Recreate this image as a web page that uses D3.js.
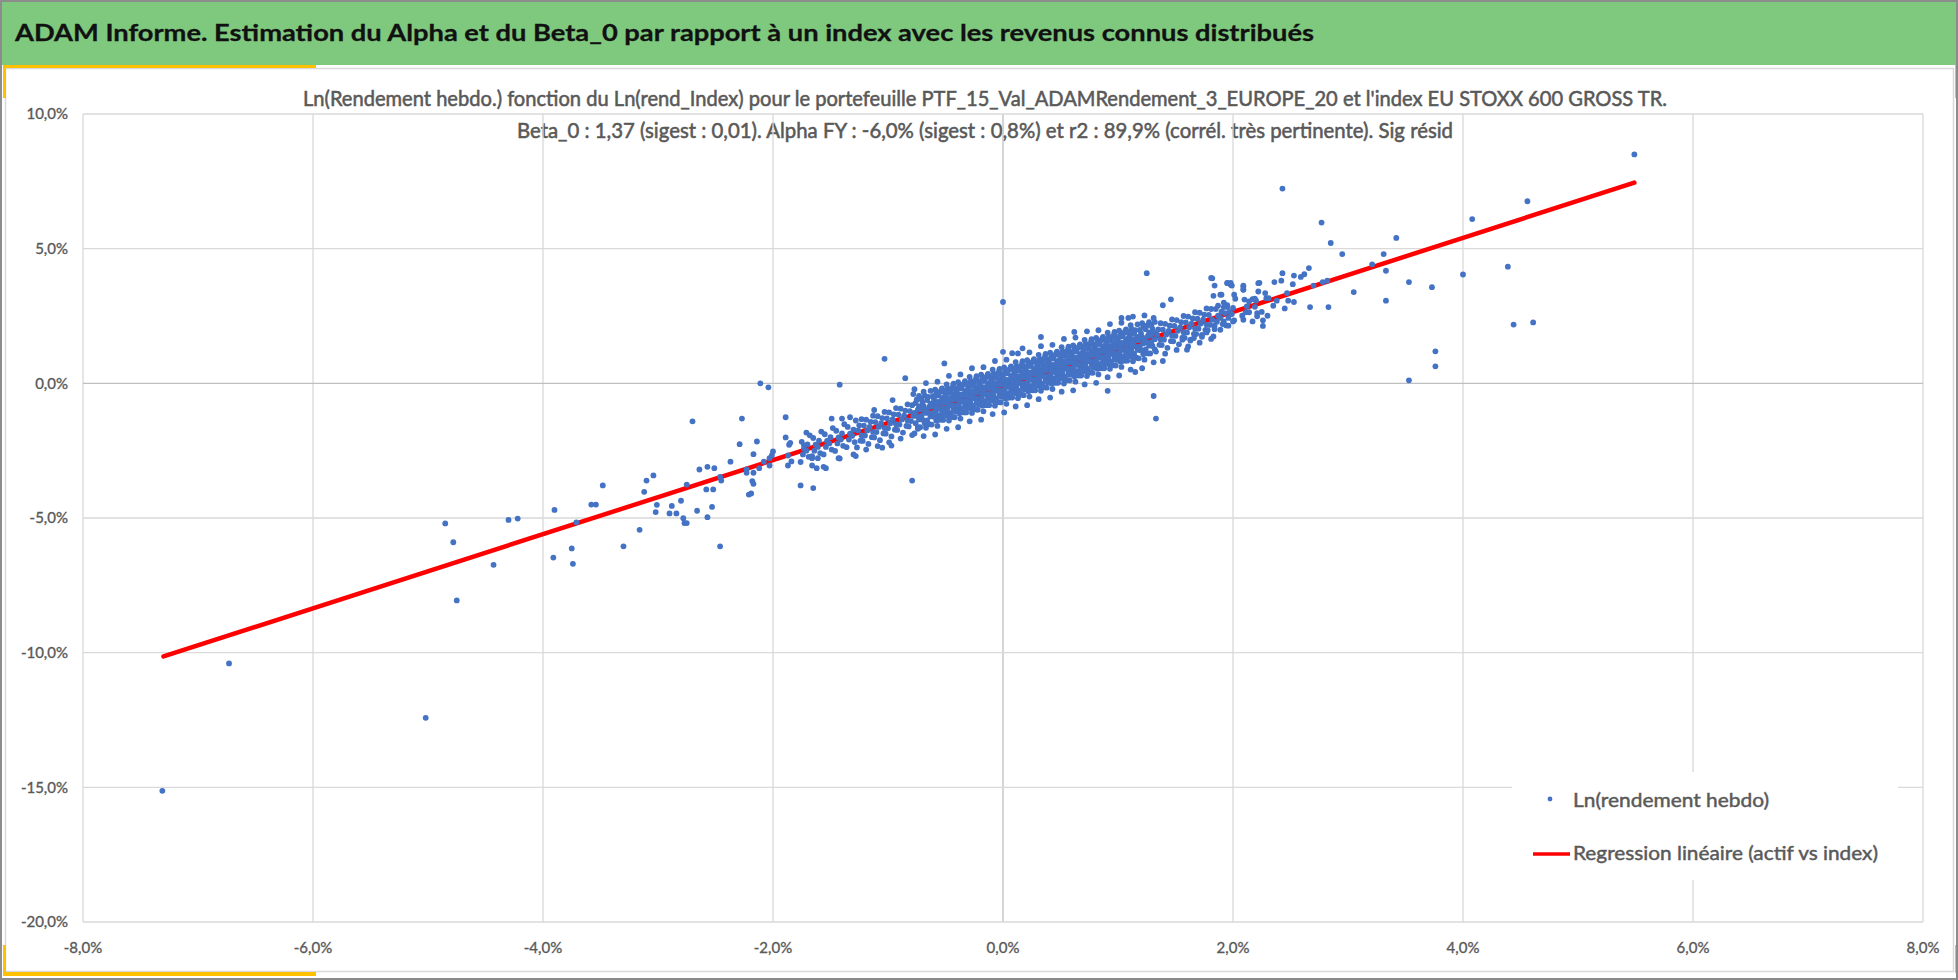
<!DOCTYPE html>
<html><head><meta charset="utf-8">
<script src="https://cdn.jsdelivr.net/npm/d3@7/dist/d3.min.js"></script>
<style>html,body{margin:0;padding:0;background:#fff;}svg{display:block;}</style>
</head><body>
<svg id="chart" width="1958" height="980"></svg>
<script>
// ---------- texts ----------
const headerTitle = "ADAM Informe. Estimation du Alpha et du Beta_0 par rapport à un index avec les revenus connus distribués";
const chartTitle1 = "Ln(Rendement hebdo.) fonction du Ln(rend_Index) pour le portefeuille PTF_15_Val_ADAMRendement_3_EUROPE_20 et l'index EU STOXX 600 GROSS TR.";
const chartTitle2 = "Beta_0 : 1,37 (sigest : 0,01). Alpha FY : -6,0% (sigest : 0,8%) et r2 : 89,9% (corrél. très pertinente). Sig résid";
const legendLabels = ["Ln(rendement hebdo)", "Regression linéaire (actif vs index)"];

// ---------- axes ----------
const xTicks = [-8, -6, -4, -2, 0, 2, 4, 6, 8];
const yTicks = [-20, -15, -10, -5, 0, 5, 10];

// ---------- regression line (x = ln rend index %, y = ln rend hebdo %) ----------
const regressionLine = [[-7.30, -10.14], [5.49, 7.45]];

// ---------- scattered weekly points (%) ----------
const scatterOuter = [
[-7.31,-15.13],[-6.73,-10.40],[-5.02,-12.42],[-4.85,-5.20],[-4.78,-5.90],[-4.75,-8.06],[-4.43,-6.74],[-4.30,-5.07],[-4.22,-5.02],
[-3.91,-6.47],[-3.90,-4.70],[-3.75,-6.13],[-3.74,-6.70],[-3.71,-5.16],[-3.58,-4.50],[-3.54,-4.50],[-3.48,-3.79],
[-3.30,-6.05],[-3.16,-5.44],[-3.12,-4.03],[-3.10,-3.61],[-3.04,-3.42],[-3.02,-4.78],[-3.01,-4.51],[-2.90,-4.83],[-2.88,-4.55],
[-2.84,-4.83],[-2.80,-4.36],[-2.78,-5.01],[-2.77,-5.19],[-2.75,-5.19],[-2.75,-3.76],[-2.70,-1.41],[-2.66,-4.73],[-2.64,-3.20],
[-2.58,-3.94],[-2.57,-4.97],[-2.57,-3.10],[-2.53,-4.59],[-2.52,-3.94],[-2.51,-3.15],[-2.46,-6.05],[-2.46,-3.47],[-2.45,-3.61],
[-2.37,-2.91],[-2.29,-2.26],[-2.27,-1.31],[-2.23,-3.20],[-2.23,-3.32],[-2.21,-4.13],[-2.19,-4.09],[-2.18,-3.63],[-2.17,-3.73],
[-2.17,-3.32],[-2.17,-2.63],[-2.14,-2.16],[-2.12,-3.15],[-2.11,0.00],[-2.08,-2.91],[-2.04,-0.15],[-2.03,-3.05],[-2.03,-2.78],
[-2.01,-2.68],[-2.00,-2.53],[-1.89,-1.26],[-1.89,-2.01],[-1.87,-3.05],[-1.87,-2.68],[-1.86,-2.28],[-1.85,-2.21],[-1.84,-2.90],
[-1.76,-3.79],[-1.65,-3.89],[-1.73,-2.30],[-1.71,-1.83],[-1.66,-2.70],[-1.66,-3.05],[-1.62,-3.15],[-1.61,-2.78],[-1.56,-3.10],
[-1.54,-3.15],[-1.43,-2.78],[-1.42,-0.05],[-1.49,-1.31],[-1.40,-1.31],[-1.33,-1.26],[-1.30,-2.64],[-1.28,-2.70],[-1.42,-2.79],
[-1.12,-0.99],[-1.05,-2.39],[-1.03,0.91],[-0.97,-2.31],[-0.96,-0.62],[-0.85,0.19],[-0.79,-3.61],[-0.78,-0.40],[-0.74,-1.69],
[-0.51,0.74],[0.00,3.02],[0.00,1.17],[0.08,1.12],[0.17,1.30],[0.33,1.72],[0.62,1.91],[0.91,-0.28],[1.31,-0.47],[1.33,-1.31],
[1.46,3.12],[1.39,2.90],[1.60,1.25],[1.39,0.83],[1.15,0.42],[1.03,2.43],[1.09,2.43],[1.25,4.09],[1.82,3.90],[1.95,3.72],
[1.98,3.66],[2.09,3.59],[2.09,3.47],[2.22,3.72],
[2.43,7.23],[2.77,5.97],[2.85,5.21],[2.95,4.80],[3.42,5.40],[3.31,4.80],[3.21,4.42],[3.33,4.18],[3.53,3.76],[3.73,3.57],
[3.33,3.07],[3.05,3.39],[2.83,2.83],[2.67,2.83],[2.82,3.81],[2.78,3.76],[2.70,3.63],[2.66,4.28],[2.62,4.05],[2.59,3.95],
[2.53,4.00],[2.43,4.09],[2.36,3.76],[2.42,3.81],[2.52,3.68],[2.53,3.02],[2.48,3.07],[2.47,3.35],[2.45,2.78],[2.38,3.07],
[2.35,2.88],[2.30,2.51],[2.31,3.16],[2.28,3.35],[2.29,3.16],[2.23,3.73],[2.25,2.65],[2.26,2.34],[2.26,2.13],[2.21,2.49],
[2.17,2.30],[2.17,3.13],[2.14,3.04],[2.14,2.64],[2.19,3.14],[2.09,3.63],[2.09,3.48],[2.08,2.51],[2.01,3.29],[2.00,2.30],
[1.99,3.63],[1.98,3.73],[1.95,3.73],[1.96,2.14],[1.81,3.91],[1.84,3.63],[1.83,3.25],[1.89,3.29],[1.90,3.29],[1.87,2.88],
[1.92,2.83],[1.95,2.83],[1.93,2.61],[1.92,2.30],[1.89,1.99],[1.84,2.14],[1.83,1.74],[1.77,1.89],[1.73,1.80],[1.66,1.68],
[1.63,1.62],[1.56,1.62],
[4.08,6.10],[4.00,4.04],[4.56,6.76],[4.39,4.33],[4.44,2.18],[4.61,2.26],[3.76,1.19],[3.76,0.63],[3.53,0.11],[5.49,8.50]
];

// ---------- dense band of weekly points (%) ----------
const scatterBand = [
[-1.76,-2.92],[-1.74,-2.64],[-1.73,-2.42],[-1.75,-2.17],[-1.69,-2.73],[-1.71,-2.50],[-1.70,-2.27],[-1.68,-1.93],
[-1.66,-2.78],[-1.64,-2.50],[-1.63,-2.28],[-1.65,-2.03],[-1.59,-2.59],[-1.61,-2.36],[-1.60,-2.13],[-1.58,-1.79],
[-1.56,-2.64],[-1.54,-2.36],[-1.53,-2.14],[-1.55,-1.89],[-1.49,-2.46],[-1.51,-2.23],[-1.50,-2.00],[-1.48,-1.66],
[-1.46,-2.51],[-1.44,-2.23],[-1.43,-2.01],[-1.45,-1.76],[-1.39,-2.32],[-1.41,-2.09],[-1.40,-1.86],[-1.38,-1.52],
[-1.36,-2.37],[-1.34,-2.09],[-1.33,-1.87],[-1.35,-1.62],[-1.29,-2.18],[-1.31,-1.95],[-1.30,-1.72],[-1.28,-1.38],
[-1.27,-2.38],[-1.24,-2.13],[-1.23,-1.93],[-1.26,-1.75],[-1.25,-1.56],[-1.23,-1.33],
[-1.19,-2.46],[-1.22,-2.14],[-1.20,-1.94],[-1.18,-1.75],[-1.21,-1.57],[-1.19,-1.35],
[-1.17,-2.25],[-1.14,-2.00],[-1.13,-1.80],[-1.16,-1.62],[-1.15,-1.43],[-1.13,-1.20],
[-1.09,-2.33],[-1.12,-2.01],[-1.10,-1.81],[-1.08,-1.62],[-1.11,-1.44],[-1.09,-1.22],
[-1.07,-2.11],[-1.04,-1.86],[-1.03,-1.66],[-1.06,-1.48],[-1.05,-1.29],[-1.03,-1.06],
[-0.99,-2.19],[-1.02,-1.87],[-1.00,-1.67],[-0.98,-1.48],[-1.01,-1.30],[-0.99,-1.08],
[-0.97,-1.97],[-0.94,-1.72],[-0.93,-1.52],[-0.96,-1.34],[-0.95,-1.15],[-0.93,-0.92],
[-0.89,-2.05],[-0.92,-1.73],[-0.90,-1.53],[-0.88,-1.34],[-0.91,-1.16],[-0.89,-0.94],
[-0.87,-1.83],[-0.84,-1.58],[-0.83,-1.38],[-0.86,-1.20],[-0.85,-1.01],[-0.83,-0.78],
[-0.79,-1.92],[-0.82,-1.60],[-0.80,-1.40],[-0.78,-1.21],[-0.81,-1.03],[-0.79,-0.81],
[-0.77,-1.86],[-0.74,-1.63],[-0.76,-1.48],[-0.73,-1.34],[-0.75,-1.21],[-0.77,-1.10],[-0.74,-0.98],[-0.73,-0.86],[-0.76,-0.73],[-0.75,-0.60],[-0.73,-0.47],[-0.77,-0.22],
[-0.69,-1.96],[-0.72,-1.63],[-0.68,-1.48],[-0.70,-1.35],[-0.71,-1.21],[-0.68,-1.10],[-0.72,-0.97],[-0.69,-0.85],[-0.70,-0.72],[-0.71,-0.59],[-0.68,-0.46],[-0.69,-0.31],
[-0.67,-1.65],[-0.64,-1.52],[-0.66,-1.38],[-0.63,-1.23],[-0.65,-1.10],[-0.67,-0.98],[-0.64,-0.87],[-0.63,-0.75],[-0.66,-0.62],[-0.65,-0.50],[-0.63,-0.28],[-0.67,0.01],
[-0.59,-1.90],[-0.62,-1.53],[-0.58,-1.38],[-0.60,-1.24],[-0.61,-1.10],[-0.58,-0.98],[-0.62,-0.86],[-0.59,-0.74],[-0.60,-0.61],[-0.61,-0.48],[-0.58,-0.35],[-0.59,-0.23],
[-0.57,-1.58],[-0.54,-1.35],[-0.56,-1.20],[-0.53,-1.06],[-0.55,-0.93],[-0.57,-0.82],[-0.54,-0.70],[-0.53,-0.58],[-0.56,-0.45],[-0.55,-0.32],[-0.53,-0.19],[-0.57,0.06],
[-0.49,-1.69],[-0.52,-1.36],[-0.48,-1.21],[-0.50,-1.08],[-0.51,-0.94],[-0.48,-0.83],[-0.52,-0.70],[-0.49,-0.58],[-0.50,-0.45],[-0.51,-0.32],[-0.48,-0.19],[-0.49,-0.04],
[-0.47,-1.38],[-0.44,-1.25],[-0.46,-1.11],[-0.43,-0.96],[-0.45,-0.83],[-0.47,-0.71],[-0.44,-0.60],[-0.43,-0.48],[-0.46,-0.35],[-0.45,-0.23],[-0.43,-0.01],[-0.47,0.28],
[-0.39,-1.63],[-0.42,-1.26],[-0.38,-1.11],[-0.40,-0.97],[-0.41,-0.83],[-0.38,-0.71],[-0.42,-0.59],[-0.39,-0.47],[-0.40,-0.34],[-0.41,-0.21],[-0.38,-0.08],[-0.39,0.04],
[-0.37,-1.31],[-0.34,-1.08],[-0.36,-0.93],[-0.33,-0.79],[-0.35,-0.66],[-0.37,-0.55],[-0.34,-0.43],[-0.33,-0.31],[-0.36,-0.18],[-0.35,-0.05],[-0.33,0.08],[-0.37,0.33],
[-0.29,-1.41],[-0.32,-1.08],[-0.28,-0.93],[-0.30,-0.80],[-0.31,-0.66],[-0.28,-0.55],[-0.32,-0.42],[-0.29,-0.30],[-0.30,-0.17],[-0.31,-0.04],[-0.28,0.09],[-0.29,0.24],
[-0.27,-1.10],[-0.24,-0.97],[-0.26,-0.83],[-0.23,-0.68],[-0.25,-0.55],[-0.27,-0.43],[-0.24,-0.32],[-0.23,-0.20],[-0.26,-0.07],[-0.25,0.05],[-0.23,0.27],[-0.27,0.56],
[-0.19,-1.35],[-0.22,-0.98],[-0.18,-0.83],[-0.20,-0.69],[-0.21,-0.55],[-0.18,-0.43],[-0.22,-0.31],[-0.19,-0.19],[-0.20,-0.06],[-0.21,0.07],[-0.18,0.20],[-0.19,0.32],
[-0.17,-1.04],[-0.14,-0.81],[-0.16,-0.66],[-0.13,-0.52],[-0.15,-0.39],[-0.17,-0.28],[-0.14,-0.16],[-0.13,-0.04],[-0.16,0.09],[-0.15,0.22],[-0.13,0.35],[-0.17,0.60],
[-0.09,-1.14],[-0.12,-0.81],[-0.08,-0.66],[-0.10,-0.53],[-0.11,-0.39],[-0.08,-0.28],[-0.12,-0.15],[-0.09,-0.03],[-0.10,0.10],[-0.11,0.23],[-0.08,0.36],[-0.09,0.51],
[-0.07,-0.83],[-0.04,-0.70],[-0.06,-0.56],[-0.03,-0.41],[-0.05,-0.28],[-0.07,-0.16],[-0.04,-0.05],[-0.03,0.07],[-0.06,0.20],[-0.05,0.32],[-0.03,0.54],[-0.07,0.83],
[0.01,-1.08],[-0.02,-0.71],[0.02,-0.56],[0.00,-0.42],[-0.01,-0.28],[0.02,-0.16],[-0.02,-0.04],[0.01,0.08],[0.00,0.21],[-0.01,0.34],[0.02,0.47],[0.01,0.59],
[0.03,-0.76],[0.06,-0.53],[0.04,-0.38],[0.07,-0.24],[0.05,-0.11],[0.03,0.00],[0.06,0.12],[0.07,0.24],[0.04,0.37],[0.05,0.50],[0.07,0.63],[0.03,0.88],
[0.11,-0.86],[0.08,-0.53],[0.12,-0.38],[0.10,-0.25],[0.09,-0.11],[0.12,0.00],[0.08,0.13],[0.11,0.25],[0.10,0.38],[0.09,0.51],[0.12,0.64],[0.11,0.79],
[0.13,-0.55],[0.16,-0.42],[0.14,-0.28],[0.17,-0.13],[0.15,0.00],[0.13,0.12],[0.16,0.23],[0.17,0.35],[0.14,0.48],[0.15,0.60],[0.17,0.82],[0.13,1.11],
[0.21,-0.81],[0.18,-0.44],[0.22,-0.29],[0.20,-0.15],[0.19,-0.01],[0.22,0.11],[0.18,0.23],[0.21,0.35],[0.20,0.48],[0.19,0.61],[0.22,0.74],[0.21,0.86],
[0.23,-0.49],[0.26,-0.26],[0.24,-0.11],[0.27,0.03],[0.25,0.16],[0.23,0.27],[0.26,0.39],[0.27,0.51],[0.24,0.64],[0.25,0.77],[0.27,0.90],[0.23,1.15],
[0.31,-0.59],[0.28,-0.26],[0.32,-0.11],[0.30,0.02],[0.29,0.16],[0.32,0.27],[0.28,0.40],[0.31,0.52],[0.30,0.65],[0.29,0.78],[0.32,0.91],[0.31,1.06],
[0.33,-0.28],[0.36,-0.15],[0.34,-0.01],[0.37,0.14],[0.35,0.27],[0.33,0.39],[0.36,0.50],[0.37,0.62],[0.34,0.75],[0.35,0.87],[0.37,1.09],[0.33,1.38],
[0.41,-0.53],[0.38,-0.16],[0.42,-0.01],[0.40,0.13],[0.39,0.27],[0.42,0.39],[0.38,0.51],[0.41,0.63],[0.40,0.76],[0.39,0.89],[0.42,1.02],[0.41,1.14],
[0.43,-0.21],[0.46,0.02],[0.44,0.17],[0.47,0.31],[0.45,0.44],[0.43,0.55],[0.46,0.67],[0.47,0.79],[0.44,0.92],[0.45,1.05],[0.47,1.18],[0.43,1.43],
[0.51,-0.31],[0.48,0.02],[0.52,0.17],[0.50,0.30],[0.49,0.44],[0.52,0.55],[0.48,0.68],[0.51,0.80],[0.50,0.93],[0.49,1.06],[0.52,1.19],[0.51,1.34],
[0.53,-0.01],[0.56,0.12],[0.54,0.26],[0.57,0.41],[0.55,0.54],[0.53,0.66],[0.56,0.77],[0.57,0.89],[0.54,1.02],[0.55,1.14],[0.57,1.36],[0.53,1.65],
[0.61,-0.26],[0.58,0.11],[0.62,0.26],[0.60,0.40],[0.59,0.54],[0.62,0.66],[0.58,0.78],[0.61,0.90],[0.60,1.03],[0.59,1.16],[0.62,1.29],[0.61,1.41],
[0.63,0.06],[0.66,0.29],[0.64,0.44],[0.67,0.58],[0.65,0.71],[0.63,0.82],[0.66,0.94],[0.67,1.06],[0.64,1.19],[0.65,1.32],[0.67,1.45],[0.63,1.70],
[0.71,-0.04],[0.68,0.29],[0.72,0.44],[0.70,0.57],[0.69,0.71],[0.72,0.82],[0.68,0.95],[0.71,1.07],[0.70,1.20],[0.69,1.33],[0.72,1.46],[0.71,1.61],
[0.73,0.27],[0.76,0.40],[0.74,0.54],[0.77,0.69],[0.75,0.82],[0.73,0.94],[0.76,1.05],[0.77,1.17],[0.74,1.30],[0.75,1.42],[0.77,1.64],[0.73,1.93],
[0.81,0.02],[0.78,0.39],[0.82,0.54],[0.80,0.68],[0.79,0.82],[0.82,0.94],[0.78,1.06],[0.81,1.18],[0.80,1.31],[0.79,1.44],[0.82,1.57],[0.81,1.69],
[0.83,0.33],[0.86,0.56],[0.84,0.71],[0.87,0.85],[0.85,0.98],[0.83,1.09],[0.86,1.21],[0.87,1.33],[0.84,1.46],[0.85,1.59],[0.87,1.72],[0.83,1.97],
[0.91,0.23],[0.88,0.56],[0.92,0.71],[0.90,0.84],[0.89,0.98],[0.92,1.09],[0.88,1.22],[0.91,1.34],[0.90,1.47],[0.89,1.60],[0.92,1.73],[0.91,1.88],
[0.93,0.54],[0.96,0.67],[0.94,0.81],[0.97,0.96],[0.95,1.09],[0.93,1.21],[0.96,1.32],[0.97,1.44],[0.94,1.57],[0.95,1.69],[0.97,1.91],[0.93,2.20],
[1.01,0.29],[0.98,0.66],[1.02,0.81],[1.00,0.95],[0.99,1.09],[1.02,1.21],[0.98,1.33],[1.01,1.45],[1.00,1.58],[0.99,1.71],[1.02,1.84],[1.01,1.96],
[1.03,0.61],[1.06,0.84],[1.04,0.99],[1.07,1.13],[1.05,1.26],[1.03,1.37],[1.06,1.49],[1.07,1.61],[1.04,1.74],[1.05,1.87],[1.07,2.00],[1.03,2.25],
[1.11,0.51],[1.08,0.84],[1.12,0.99],[1.10,1.12],[1.09,1.26],[1.12,1.37],[1.08,1.50],[1.11,1.62],[1.10,1.75],[1.09,1.88],[1.12,2.01],[1.11,2.16],
[1.13,0.82],[1.16,0.95],[1.14,1.09],[1.17,1.24],[1.15,1.37],[1.13,1.49],[1.16,1.60],[1.17,1.72],[1.14,1.85],[1.15,1.97],[1.17,2.19],[1.13,2.48],
[1.21,0.56],[1.18,0.93],[1.22,1.08],[1.20,1.22],[1.19,1.36],[1.22,1.48],[1.18,1.60],[1.21,1.72],[1.20,1.85],[1.19,1.98],[1.22,2.11],[1.21,2.23],
[1.23,0.88],[1.26,1.11],[1.24,1.26],[1.27,1.40],[1.25,1.53],[1.23,1.64],[1.26,1.76],[1.27,1.88],[1.24,2.01],[1.25,2.14],[1.27,2.27],[1.23,2.52],
[1.31,0.78],[1.28,1.11],[1.32,1.26],[1.30,1.39],[1.29,1.53],[1.32,1.64],[1.28,1.77],[1.31,1.89],[1.30,2.02],[1.29,2.15],[1.32,2.28],[1.31,2.43],
[1.33,1.18],[1.36,1.43],[1.37,1.63],[1.34,1.81],[1.35,2.00],[1.37,2.23],
[1.41,1.10],[1.38,1.42],[1.40,1.62],[1.42,1.81],[1.39,1.99],[1.41,2.21],
[1.43,1.32],[1.46,1.57],[1.47,1.77],[1.44,1.95],[1.45,2.14],[1.47,2.37],
[1.51,1.24],[1.48,1.56],[1.50,1.76],[1.52,1.95],[1.49,2.13],[1.51,2.35],
[1.53,1.45],[1.56,1.70],[1.57,1.90],[1.54,2.08],[1.55,2.27],[1.57,2.50],
[1.61,1.37],[1.58,1.69],[1.60,1.89],[1.62,2.08],[1.59,2.26],[1.61,2.48],
[1.63,1.59],[1.66,1.84],[1.67,2.04],[1.64,2.22],[1.65,2.41],[1.67,2.64],
[1.71,1.51],[1.68,1.83],[1.70,2.03],[1.72,2.22],[1.69,2.40],[1.71,2.62],
[1.73,1.73],[1.76,1.98],[1.77,2.18],[1.74,2.36],[1.75,2.55],[1.77,2.78],
[1.81,1.65],[1.78,1.97],[1.80,2.17],[1.82,2.36],[1.79,2.54],[1.81,2.76],
[1.84,2.01],[1.86,2.29],[1.87,2.51],[1.85,2.76],[1.91,2.20],[1.89,2.43],[1.90,2.66],[1.92,3.00],
[1.94,2.15],[1.96,2.43],[1.97,2.65],[1.95,2.90],[2.01,2.34],[1.99,2.57],[2.00,2.80],[2.02,3.14],
[2.09,2.36],[2.11,2.64],[2.12,2.86],[2.10,3.11],[2.21,2.61],[2.19,2.84],[2.20,3.07],[2.22,3.41]
];

// ---------- extra points filling the core of the band (%), estimated ----------
const scatterCore = [
[-0.565,-1.36],[-0.585,-1.11],[-0.575,-0.91],[-0.565,-0.69],[-0.585,-0.46],
[-0.515,-1.19],[-0.535,-0.96],[-0.525,-0.74],[-0.515,-0.52],[-0.535,-0.24],
[-0.465,-1.22],[-0.485,-0.97],[-0.475,-0.77],[-0.465,-0.55],[-0.485,-0.32],
[-0.415,-1.05],[-0.435,-0.82],[-0.425,-0.60],[-0.415,-0.38],[-0.435,-0.10],
[-0.365,-1.08],[-0.385,-0.83],[-0.375,-0.63],[-0.365,-0.41],[-0.385,-0.18],
[-0.315,-0.92],[-0.335,-0.69],[-0.325,-0.47],[-0.315,-0.25],[-0.335,0.03],
[-0.265,-0.95],[-0.285,-0.70],[-0.275,-0.50],[-0.265,-0.28],[-0.285,-0.05],
[-0.215,-0.78],[-0.235,-0.55],[-0.225,-0.33],[-0.215,-0.11],[-0.235,0.17],
[-0.165,-0.81],[-0.185,-0.56],[-0.175,-0.36],[-0.165,-0.14],[-0.185,0.09],
[-0.115,-0.64],[-0.135,-0.41],[-0.125,-0.19],[-0.115,0.03],[-0.135,0.31],
[-0.065,-0.67],[-0.085,-0.42],[-0.075,-0.22],[-0.065,0.00],[-0.085,0.23],
[-0.015,-0.50],[-0.035,-0.27],[-0.025,-0.05],[-0.015,0.17],[-0.035,0.45],
[0.035,-0.54],[0.015,-0.29],[0.025,-0.09],[0.035,0.13],[0.015,0.36],
[0.085,-0.37],[0.065,-0.14],[0.075,0.08],[0.085,0.30],[0.065,0.58],
[0.135,-0.40],[0.115,-0.15],[0.125,0.05],[0.135,0.27],[0.115,0.50],
[0.185,-0.23],[0.165,0.00],[0.175,0.22],[0.185,0.44],[0.165,0.72],
[0.235,-0.26],[0.215,-0.01],[0.225,0.19],[0.235,0.41],[0.215,0.64],
[0.285,-0.09],[0.265,0.14],[0.275,0.36],[0.285,0.58],[0.265,0.86],
[0.335,-0.12],[0.315,0.13],[0.325,0.33],[0.335,0.55],[0.315,0.78],
[0.385,0.04],[0.365,0.27],[0.375,0.49],[0.385,0.71],[0.365,0.99],
[0.435,0.01],[0.415,0.26],[0.425,0.46],[0.435,0.68],[0.415,0.91],
[0.485,0.18],[0.465,0.41],[0.475,0.63],[0.485,0.85],[0.465,1.13],
[0.535,0.15],[0.515,0.40],[0.525,0.60],[0.535,0.82],[0.515,1.05],
[0.585,0.32],[0.565,0.55],[0.575,0.77],[0.585,0.99],[0.565,1.27],
[0.635,0.29],[0.615,0.54],[0.625,0.74],[0.635,0.96],[0.615,1.19],
[0.685,0.45],[0.665,0.68],[0.675,0.90],[0.685,1.12],[0.665,1.40],
[0.735,0.42],[0.715,0.67],[0.725,0.87],[0.735,1.09],[0.715,1.32],
[0.785,0.59],[0.765,0.82],[0.775,1.04],[0.785,1.26],[0.765,1.54],
[0.835,0.56],[0.815,0.81],[0.825,1.01],[0.835,1.23],[0.815,1.46],
[0.885,0.73],[0.865,0.96],[0.875,1.18],[0.885,1.40],[0.865,1.68],
[0.935,0.70],[0.915,0.95],[0.925,1.15],[0.935,1.37],[0.915,1.60],
[0.985,0.87],[0.965,1.10],[0.975,1.32],[0.985,1.54],[0.965,1.82],
[1.035,0.83],[1.015,1.08],[1.025,1.28],[1.035,1.50],[1.015,1.73],
[1.085,1.00],[1.065,1.23],[1.075,1.45],[1.085,1.67],[1.065,1.95],
[1.135,0.97],[1.115,1.22],[1.125,1.42],[1.135,1.64],[1.115,1.87]
];

// ---------- drawing ----------
const svg = d3.select("#chart");
const W = 1958, H = 980;
const FONT = "Lato, 'Open Sans', 'Noto Sans', sans-serif";
const pctFmt = v => v.toFixed(1).replace(".", ",") + "%";

svg.append("rect").attr("x",0).attr("y",0).attr("width",W).attr("height",H).attr("fill","#fff");
// green header
svg.append("rect").attr("x",2).attr("y",2).attr("width",W-2).attr("height",63).attr("fill","#7fc97e");
svg.append("text").attr("x",15).attr("y",41)
  .attr("font-family",FONT).attr("font-weight","bold").attr("font-size",23).attr("fill","#111")
  .attr("stroke","#111").attr("stroke-width",0.3)
  .attr("textLength",1299).attr("lengthAdjust","spacingAndGlyphs").text(headerTitle);

// chart panel
svg.append("rect").attr("x",5.5).attr("y",68.5).attr("width",1948).attr("height",903)
  .attr("fill","#fff").attr("stroke","#d9d9d9").attr("stroke-width",1.5);

// yellow corner accents
const yellow = "#ffc000";
[[3,65,313,3],[3,65,3,33],[3,972,313,4],[3,945,3,30],[1955,65,3,33],[1955,945,3,28]].forEach(r=>{
  svg.append("rect").attr("x",r[0]).attr("y",r[1]).attr("width",r[2]).attr("height",r[3]).attr("fill",yellow);
});
// outer gray border
svg.append("rect").attr("x",1).attr("y",1).attr("width",W-2).attr("height",H-2)
  .attr("fill","none").attr("stroke","#8c8c8c").attr("stroke-width",2);

// chart title
const titleText = (txt, yy, len) => svg.append("text").attr("x",985).attr("y",yy).attr("text-anchor","middle")
  .attr("font-family",FONT).attr("font-size",21).attr("fill","#595959")
  .attr("stroke","#595959").attr("stroke-width",0.55)
  .attr("textLength",len).attr("lengthAdjust","spacingAndGlyphs").text(txt);
titleText(chartTitle1, 106, 1364);
titleText(chartTitle2, 138, 936);

// scales
const x = d3.scaleLinear().domain([-8, 8]).range([83, 1923]);
const y = d3.scaleLinear().domain([-20, 10]).range([922, 114]);

// gridlines
const grid = svg.append("g");
grid.selectAll("line.v").data(xTicks).join("line")
  .attr("x1",d=>x(d)).attr("x2",d=>x(d)).attr("y1",y(10)).attr("y2",y(-20))
  .attr("stroke",d=>d===0?"#bfbfbf":"#d9d9d9").attr("stroke-width",1.3);
grid.selectAll("line.h").data(yTicks).join("line")
  .attr("x1",x(-8)).attr("x2",x(8)).attr("y1",d=>y(d)).attr("y2",d=>y(d))
  .attr("stroke",d=>d===0?"#bfbfbf":"#d9d9d9").attr("stroke-width",1.3);

// tick labels
svg.append("g").selectAll("text").data(yTicks).join("text")
  .attr("x",68).attr("y",d=>y(d)).attr("dy","0.36em").attr("text-anchor","end")
  .attr("font-family",FONT).attr("font-size",15).attr("fill","#595959")
  .attr("stroke","#595959").attr("stroke-width",0.35).text(pctFmt);
svg.append("g").selectAll("text").data(xTicks).join("text")
  .attr("x",d=>x(d)).attr("y",953).attr("text-anchor","middle")
  .attr("font-family",FONT).attr("font-size",15).attr("fill","#595959")
  .attr("stroke","#595959").attr("stroke-width",0.35).text(pctFmt);

// regression line
svg.append("path").datum(regressionLine)
  .attr("d", d3.line().x(d=>x(d[0])).y(d=>y(d[1])))
  .attr("stroke","#ff0000").attr("stroke-width",4.5).attr("stroke-linecap","round").attr("fill","none");

// points
const pts = scatterBand.concat(scatterCore, scatterOuter);
svg.append("g").selectAll("circle").data(pts).join("circle")
  .attr("cx",d=>x(d[0])).attr("cy",d=>y(d[1])).attr("r",2.9).attr("fill","#4472c4");

// legend
const lg = svg.append("g");
lg.append("rect").attr("x",1512).attr("y",772).attr("width",386).attr("height",108).attr("fill","#fff");
lg.append("circle").attr("cx",1550).attr("cy",799).attr("r",2.4).attr("fill","#4472c4");
lg.append("text").attr("x",1573).attr("y",806.5).attr("font-family",FONT).attr("font-size",19.5)
  .attr("fill","#595959").attr("stroke","#595959").attr("stroke-width",0.45)
  .attr("textLength",196).attr("lengthAdjust","spacingAndGlyphs").text(legendLabels[0]);
lg.append("line").attr("x1",1533).attr("x2",1570).attr("y1",854).attr("y2",854)
  .attr("stroke","#ff0000").attr("stroke-width",3.5);
lg.append("text").attr("x",1573).attr("y",860).attr("font-family",FONT).attr("font-size",19.5)
  .attr("fill","#595959").attr("stroke","#595959").attr("stroke-width",0.45)
  .attr("textLength",305).attr("lengthAdjust","spacingAndGlyphs").text(legendLabels[1]);
</script>
</body></html>
